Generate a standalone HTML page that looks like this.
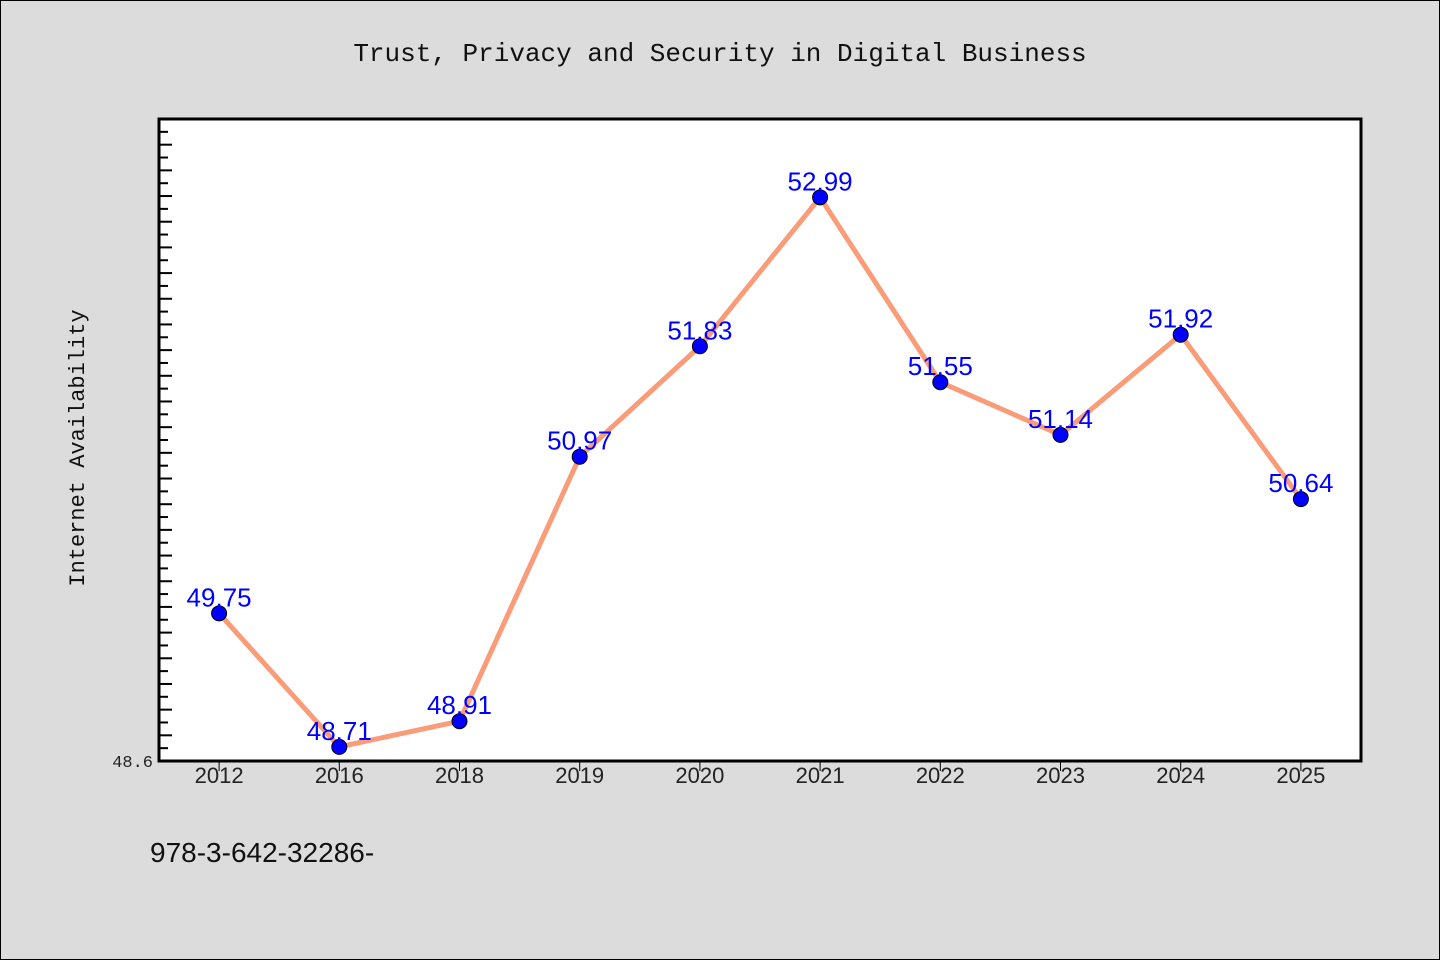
<!DOCTYPE html>
<html><head><meta charset="utf-8"><style>
body{margin:0;background:#dcdcdc;}
svg{display:block;font-family:"Liberation Mono","DejaVu Sans Mono",monospace;}
</style></head><body>
<svg width="1440" height="960">
<rect x="0.5" y="0.5" width="1439" height="959" fill="#dcdcdc" stroke="#000"/>
<text x="720" y="61" text-anchor="middle" font-size="26" fill="#111">Trust, Privacy and Security in Digital Business</text>
<rect x="159" y="119" width="1202" height="642" fill="#fff"/>
<g id="ticks"></g>
<g id="marks"></g>
<rect x="159" y="119" width="1202" height="642" fill="none" stroke="#000" stroke-width="3"/>
<text transform="translate(84,448) rotate(-90)" text-anchor="middle" font-size="22" fill="#111">Internet Availability</text>
<text x="153" y="767" text-anchor="end" font-size="17" fill="#222">48.6</text>
<text x="150" y="862" font-size="28" font-family="Liberation Sans, sans-serif" fill="#111">978-3-642-32286-</text>
</svg>
<script>
const categories=["2012","2016","2018","2019","2020","2021","2022","2023","2024","2025"];
const values=[49.75,48.71,48.91,50.97,51.83,52.99,51.55,51.14,51.92,50.64];
const yMin=48.6,yMax=53.6;
const L=159,R=1361,T=119,B=761;
const NS="http://www.w3.org/2000/svg";
const band=(R-L)/categories.length;
function x(i){return L+band*(i+0.5);}
function y(v){return B-(v-yMin)/(yMax-yMin)*(B-T);}
function mk(tag,attrs,parent){const e=document.createElementNS(NS,tag);for(const k in attrs)e.setAttribute(k,attrs[k]);parent.appendChild(e);return e;}
const tg=document.getElementById('ticks'),mg=document.getElementById('marks');
for(let k=1;k<50;k++){const v=yMin+k*0.1;const yy=y(v);
 const t=mk('line',{x1:L,x2:L+(k%2?9:13),y1:yy,y2:yy,stroke:'#000','stroke-width':2},tg);
 
 }
categories.forEach((c,i)=>{
 const t=mk('line',{x1:x(i),x2:x(i),y1:B,y2:B+10,stroke:'#000','stroke-width':1},tg);
 
 
 const l=mk('text',{x:x(i),y:B+22,'text-anchor':'middle','font-size':22,'font-family':'Liberation Sans, sans-serif',fill:'#222'},tg);
 l.textContent=c;
 
 
});
const pts=values.map((v,i)=>x(i)+','+y(v)).join(' ');
const line=mk('polyline',{points:pts,fill:'none',stroke:'#fa9c78','stroke-width':5,'stroke-linejoin':'round'},mg);


values.forEach((v,i)=>{
 const p=mk('circle',{cx:x(i),cy:y(v),r:7.5,fill:'#0000ff',stroke:'#000','stroke-width':1},mg);
 
 
 const t=mk('text',{x:x(i),y:y(v)-7,'text-anchor':'middle','font-size':26,'font-family':'Liberation Sans, sans-serif',fill:'#0000ff'},mg);
 t.textContent=v.toFixed(2);
 
 
});
</script>
</body></html>
